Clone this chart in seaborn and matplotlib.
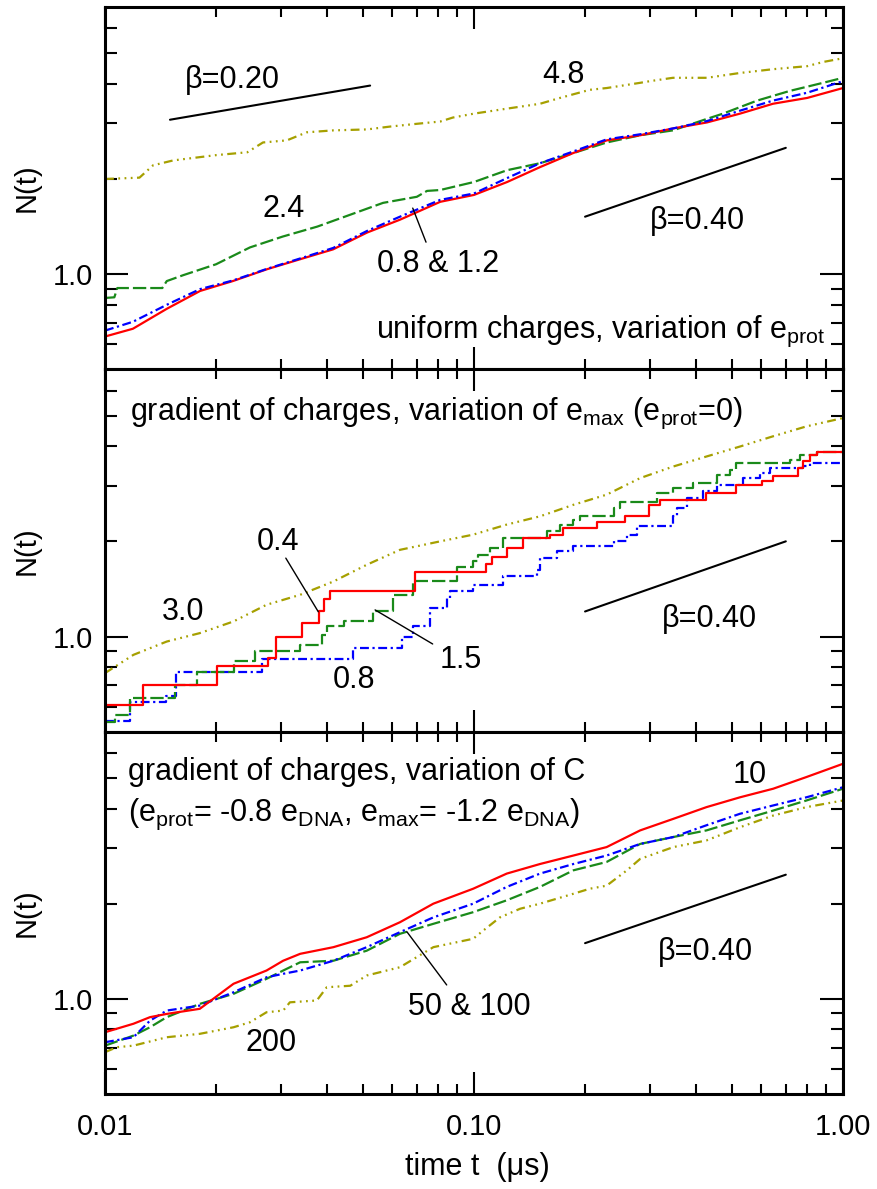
import matplotlib
matplotlib.use("Agg")
import matplotlib.pyplot as plt
import matplotlib.ticker as mticker
import seaborn as sns

# =========================
# DATA
# =========================

# panel 1: uniform charges, variation of e_prot (0.8, 1.2, 2.4, 4.8)
p1_t = [0.01, 0.0119, 0.0147, 0.0181, 0.0222, 0.0275, 0.0337, 0.0415, 0.0513, 0.063, 0.081, 0.1,
        0.123, 0.151, 0.185, 0.229, 0.282, 0.346, 0.428, 0.526, 0.646, 0.8, 1.0]
p1_red = [0.635, 0.672, 0.777, 0.885, 0.951, 1.037, 1.114, 1.198, 1.354, 1.487, 1.694, 1.781,
          1.957, 2.181, 2.412, 2.65, 2.75, 2.89, 3.02, 3.22, 3.46, 3.61, 3.88]
p1_blue = [0.663, 0.707, 0.80, 0.897, 0.955, 1.04, 1.12, 1.21, 1.37, 1.52, 1.718, 1.80,
           2.014, 2.244, 2.44, 2.67, 2.77, 2.89, 3.05, 3.29, 3.54, 3.75, 4.08]
p1_t_green = [0.01, 0.0106, 0.0108, 0.0143, 0.0147, 0.0163, 0.02, 0.0247, 0.0303, 0.0376, 0.0462,
              0.0567, 0.07, 0.0746, 0.081, 0.1, 0.123, 0.151, 0.185, 0.229, 0.282, 0.346, 0.428,
              0.473, 0.585, 0.718, 0.883, 1.0]
p1_green = [0.841, 0.845, 0.904, 0.904, 0.951, 0.993, 1.075, 1.215, 1.315, 1.414, 1.542,
            1.681, 1.757, 1.834, 1.846, 1.957, 2.133, 2.244, 2.412, 2.61, 2.75, 2.85, 3.10,
            3.22, 3.54, 3.80, 4.03, 4.18]
p1_t_yel = [0.01, 0.0124, 0.0135, 0.0153, 0.02, 0.0243, 0.0268, 0.0311, 0.0352, 0.0415, 0.0513,
            0.0592, 0.07, 0.081, 0.0877, 0.1, 0.123, 0.151, 0.171, 0.206, 0.229, 0.282, 0.3,
            0.346, 0.428, 0.526, 0.646, 0.8, 0.883, 1.0]
p1_yel = [2.0, 2.02, 2.21, 2.29, 2.38, 2.43, 2.61, 2.65, 2.81, 2.85, 2.87,
          2.93, 2.99, 3.04, 3.13, 3.22, 3.34, 3.46, 3.61, 3.83, 3.88, 4.03, 4.08,
          4.18, 4.18, 4.33, 4.45, 4.55, 4.69, 4.82]

# panel 2: gradient of charges, variation of e_max (0.4, 0.8, 1.5, 3.0)
p2_t_red = [0.01, 0.0127, 0.0201, 0.0277, 0.029, 0.0341, 0.0379, 0.0391, 0.0406, 0.0692, 0.1076,
            0.1117, 0.1227, 0.1356, 0.1607, 0.1747, 0.2149, 0.2565, 0.2985, 0.319, 0.4266, 0.514,
            0.602, 0.647, 0.757, 0.78, 0.814, 0.849, 1.0]
p2_red = [0.605, 0.700, 0.804, 0.854, 1.0, 1.102, 1.20, 1.31, 1.398, 1.60, 1.70,
          1.79, 1.91, 2.05, 2.10, 2.20, 2.30, 2.40, 2.61, 2.71, 2.84, 3.01,
          3.11, 3.21, 3.41, 3.58, 3.74, 3.83, 3.83]
p2_t_green = [0.01, 0.01064, 0.0117, 0.0155, 0.0177, 0.0223, 0.0255, 0.0338, 0.0387, 0.0399,
              0.0443, 0.0534, 0.0604, 0.0685, 0.0898, 0.0995, 0.1027, 0.1105, 0.120, 0.1574,
              0.171, 0.186, 0.194, 0.239, 0.249, 0.3125, 0.347, 0.393, 0.4545, 0.494, 0.514,
              0.718, 0.765, 0.849, 1.0]
p2_green = [0.536, 0.565, 0.638, 0.703, 0.775, 0.834, 0.903, 0.941, 1.012, 1.076,
            1.116, 1.20, 1.355, 1.493, 1.665, 1.727, 1.81, 1.90, 2.05, 2.15,
            2.26, 2.34, 2.40, 2.55, 2.67, 2.84, 2.95, 3.06, 3.25, 3.37, 3.54,
            3.62, 3.74, 3.83, 3.83]
p2_t_blue = [0.01, 0.0117, 0.01463, 0.0156, 0.0266, 0.0471, 0.0637, 0.0685, 0.076, 0.0843,
             0.0861, 0.0995, 0.120, 0.148, 0.151, 0.1675, 0.186, 0.239, 0.2597, 0.276, 0.347,
             0.354, 0.377, 0.418, 0.4545, 0.536, 0.596, 0.634, 0.78, 0.814, 1.0]
p2_blue = [0.541, 0.620, 0.646, 0.775, 0.850, 0.923, 1.0, 1.076, 1.23, 1.32,
           1.39, 1.457, 1.55, 1.626, 1.77, 1.858, 1.927, 2.0, 2.10, 2.23, 2.40,
           2.55, 2.74, 2.88, 3.02, 3.17, 3.29, 3.41, 3.45, 3.54, 3.54]
p2_t_yel = [0.01, 0.01194, 0.0147, 0.01807, 0.0223, 0.0274, 0.0338, 0.0416, 0.0512, 0.063, 0.081,
            0.0995, 0.1227, 0.151, 0.186, 0.2288, 0.282, 0.347, 0.4266, 0.526, 0.647, 0.796, 1.0]
p2_yel = [0.766, 0.875, 0.964, 1.025, 1.116, 1.26, 1.355, 1.493, 1.686, 1.88, 2.0,
          2.10, 2.26, 2.40, 2.61, 2.81, 3.17, 3.45, 3.71, 3.99, 4.30, 4.62, 4.91]

# panel 3: gradient of charges, variation of C (10, 50, 100, 200)
p3_t = [0.01, 0.01194, 0.01324, 0.0147, 0.01807, 0.0223, 0.0274, 0.0304, 0.0338, 0.0416, 0.0512,
        0.063, 0.0776, 0.0995, 0.1227, 0.151, 0.186, 0.2288, 0.282, 0.347, 0.4266, 0.526, 0.647,
        0.796, 1.0]
p3_red = [0.784, 0.834, 0.875, 0.896, 0.930, 1.116, 1.229, 1.32, 1.388, 1.457, 1.566,
          1.747, 2.0, 2.23, 2.49, 2.67, 2.84, 3.02, 3.41, 3.71, 4.04, 4.34, 4.62,
          5.03, 5.54]
p3_blue = [0.729, 0.756, 0.853, 0.918, 0.952, 1.049, 1.17, 1.20, 1.229, 1.32, 1.457,
           1.625, 1.81, 2.0, 2.26, 2.49, 2.67, 2.84, 3.09, 3.25, 3.54, 3.85, 4.09,
           4.34, 4.67]
p3_green = [0.711, 0.765, 0.813, 0.875, 0.964, 1.037, 1.157, 1.229, 1.305, 1.32, 1.42,
            1.606, 1.727, 1.88, 2.05, 2.26, 2.55, 2.71, 3.09, 3.25, 3.41, 3.67, 3.94,
            4.24, 4.62]
p3_t_yel = [0.01, 0.01076, 0.01194, 0.0147, 0.01807, 0.0223, 0.0247, 0.0274, 0.0304, 0.0317,
            0.0375, 0.0399, 0.0462, 0.0512, 0.063, 0.0776, 0.0995, 0.106, 0.1176, 0.1333, 0.151,
            0.186, 0.206, 0.2288, 0.2597, 0.282, 0.347, 0.4266, 0.526, 0.647, 0.796, 1.0]
p3_yel = [0.678, 0.703, 0.711, 0.756, 0.775, 0.813, 0.843, 0.907, 0.918, 0.975,
          0.988, 1.088, 1.10, 1.185, 1.259, 1.457, 1.549, 1.645, 1.81, 1.927, 2.0,
          2.15, 2.23, 2.28, 2.55, 2.77, 3.02, 3.17, 3.49, 3.80, 4.04, 4.24]

# power-law guide lines (end points)
beta_t = [0.2, 0.7]
beta040_top = [1.52, 2.51]
beta040_mid = [1.2, 2.0]
beta040_bot = [1.5, 2.47]
beta020_t = [0.015, 0.0523]
beta020_top = [3.08, 3.95]

x_ticks = [0.01, 0.1, 1.0]
x_tick_labels = ["0.01", "0.10", "1.00"]
x_minor = [0.02, 0.03, 0.04, 0.05, 0.06, 0.07, 0.08, 0.09, 0.2, 0.3, 0.4, 0.5, 0.6, 0.7, 0.8, 0.9]
y_ticks = [1.0]
y_tick_labels = ["1.0"]
y_minor = [0.6, 0.7, 0.8, 0.9, 2, 3, 4, 5, 6]

# =========================
# STYLE
# =========================

sns.set_theme(style="ticks")
plt.rcParams["font.family"] = ["Liberation Sans", "DejaVu Sans"]
plt.rcParams["mathtext.default"] = "regular"
plt.rcParams["text.color"] = "black"
plt.rcParams["axes.labelcolor"] = "black"

RED = "#ff0000"
BLUE = "#0000ff"
GREEN = "#1a8a1a"
OLIVE = "#a6a000"
LW = 1.6
LS_RED = "-"
LS_BLUE = (0, (4, 1.6, 1, 1.6))
LS_GREEN = (0, (6, 1.8))
LS_OLIVE = (0, (4, 2, 0.8, 2, 0.8, 2, 0.8, 2))
FS = 22

fig = plt.figure(figsize=(8.78, 11.89), dpi=100)
gs = fig.add_gridspec(3, 1, left=0.1196, right=0.9601, top=0.9941, bottom=0.0799, hspace=0)
axes = [fig.add_subplot(gs[i]) for i in range(3)]


def curve(ax, t, n, color, ls, steps=False):
    kw = dict(drawstyle="steps-post") if steps else {}
    sns.lineplot(x=t, y=n, ax=ax, color=color, linestyle=ls, linewidth=LW,
                 estimator=None, sort=True, **kw)


def guide(ax, t, n):
    sns.lineplot(x=t, y=n, ax=ax, color="black", linewidth=1.5, estimator=None)


def label(ax, x, y, s, ha="left"):
    ax.text(x, y, s, transform=ax.transAxes, fontsize=FS, ha=ha, va="baseline", color="black")


def leader(ax, p1, p2):
    ax.annotate("", xy=p2, xytext=p1, xycoords="axes fraction", textcoords="axes fraction",
                arrowprops=dict(arrowstyle="-", lw=1.0, color="black", shrinkA=0, shrinkB=0))


# panel 1
ax = axes[0]
curve(ax, p1_t_yel, p1_yel, OLIVE, LS_OLIVE)
curve(ax, p1_t_green, p1_green, GREEN, LS_GREEN)
curve(ax, p1_t, p1_red, RED, LS_RED)
curve(ax, p1_t, p1_blue, BLUE, LS_BLUE)
guide(ax, beta020_t, beta020_top)
guide(ax, beta_t, beta040_top)
label(ax, 0.108, 0.776, "β=0.20")
label(ax, 0.593, 0.790, "4.8")
label(ax, 0.213, 0.420, "2.4")
label(ax, 0.369, 0.268, "0.8 & 1.2")
leader(ax, (0.417, 0.445), (0.435, 0.351))
label(ax, 0.738, 0.387, "β=0.40")
label(ax, 0.976, 0.086, r"uniform charges, variation of e$_{\mathregular{prot}}$", ha="right")

# panel 2
ax = axes[1]
curve(ax, p2_t_yel, p2_yel, OLIVE, LS_OLIVE)
curve(ax, p2_t_blue, p2_blue, BLUE, LS_BLUE, steps=True)
curve(ax, p2_t_green, p2_green, GREEN, LS_GREEN, steps=True)
curve(ax, p2_t_red, p2_red, RED, LS_RED, steps=True)
guide(ax, beta_t, beta040_mid)
label(ax, 0.034, 0.860,
      r"gradient of charges, variation of e$_{\mathregular{max}}$ (e$_{\mathregular{prot}}$=0)")
label(ax, 0.206, 0.501, "0.4")
leader(ax, (0.245, 0.479), (0.289, 0.331))
label(ax, 0.077, 0.309, "3.0")
label(ax, 0.308, 0.120, "0.8")
label(ax, 0.454, 0.176, "1.5")
leader(ax, (0.366, 0.336), (0.444, 0.242))
label(ax, 0.755, 0.290, "β=0.40")

# panel 3
ax = axes[2]
curve(ax, p3_t_yel, p3_yel, OLIVE, LS_OLIVE)
curve(ax, p3_t, p3_green, GREEN, LS_GREEN)
curve(ax, p3_t, p3_blue, BLUE, LS_BLUE)
curve(ax, p3_t, p3_red, RED, LS_RED)
guide(ax, beta_t, beta040_bot)
label(ax, 0.031, 0.867, "gradient of charges, variation of C")
label(ax, 0.031, 0.755,
      r"(e$_{\mathregular{prot}}$= -0.8 e$_{\mathregular{DNA}}$, "
      r"e$_{\mathregular{max}}$= -1.2 e$_{\mathregular{DNA}}$)")
label(ax, 0.850, 0.858, "10")
label(ax, 0.190, 0.120, "200")
label(ax, 0.411, 0.218, "50 & 100")
leader(ax, (0.409, 0.448), (0.463, 0.301))
label(ax, 0.749, 0.370, "β=0.40")

# axes formatting
for i, ax in enumerate(axes):
    ax.set_xscale("log")
    ax.set_yscale("log")
    ax.set_xlim(0.01, 1.0)
    ax.set_ylim(0.5, 7.0)
    ax.xaxis.set_major_locator(mticker.FixedLocator(x_ticks))
    ax.xaxis.set_minor_locator(mticker.FixedLocator(x_minor))
    ax.yaxis.set_major_locator(mticker.FixedLocator(y_ticks))
    ax.yaxis.set_minor_locator(mticker.FixedLocator(y_minor))
    ax.yaxis.set_major_formatter(mticker.FixedFormatter(y_tick_labels))
    ax.yaxis.set_minor_formatter(mticker.NullFormatter())
    ax.xaxis.set_minor_formatter(mticker.NullFormatter())
    if i == 2:
        ax.xaxis.set_major_formatter(mticker.FixedFormatter(x_tick_labels))
    else:
        ax.xaxis.set_major_formatter(mticker.NullFormatter())
    ax.tick_params(which="both", direction="in", top=True, right=True, width=1.5,
                   colors="black", labelsize=21)
    ax.tick_params(axis="x", which="major", length=16, pad=14)
    ax.tick_params(axis="x", which="minor", length=7.5)
    ax.tick_params(axis="y", which="major", length=16.5, pad=9)
    ax.tick_params(axis="y", which="minor", length=8.5)
    for sp in ax.spines.values():
        sp.set_linewidth(2.2)
        sp.set_color("black")
    ax.set_ylabel("N(t)", fontsize=21, color="black")
    ax.yaxis.set_label_coords(-0.087, 0.5)
    ax.set_xlabel("")

axes[2].set_xlabel("time t  (μs)", fontsize=22, color="black")
axes[2].xaxis.set_label_coords(0.505, -0.16)

fig.savefig("out.png", dpi=100)
